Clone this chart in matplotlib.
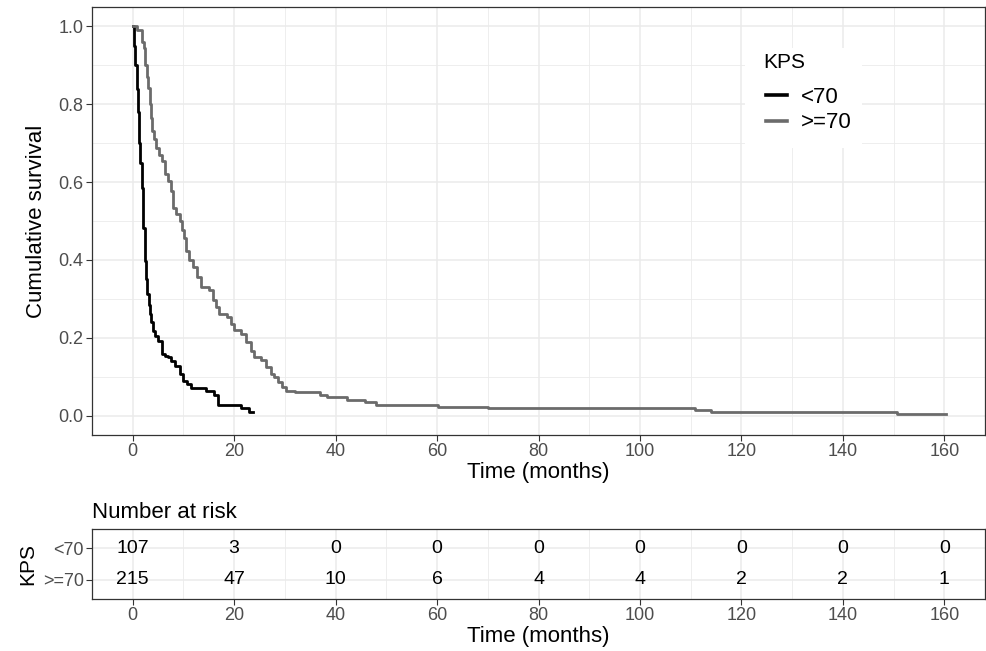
import matplotlib
matplotlib.use("Agg")
import matplotlib.pyplot as plt
from matplotlib.patches import Rectangle
from matplotlib.ticker import MultipleLocator

plt.rcParams['font.family'] = ['Liberation Sans', 'DejaVu Sans']

# Kaplan-Meier step estimates by KPS group (time in months, survival probability)
t_lt70 = [0, 0.3, 0.5, 0.8, 1.0, 1.3, 1.5, 1.76, 2.1, 2.4, 2.65, 2.9, 3.15,
          3.4, 3.7, 4.05, 4.5, 5.0, 5.7, 6.3, 7.0, 7.6, 8.3, 9.3, 9.9, 10.8,
          11.6, 14.5, 16.0, 16.8, 21.3, 22.9, 23.7]
s_lt70 = [1.0, 0.95, 0.90, 0.84, 0.78, 0.70, 0.65, 0.585, 0.483, 0.397, 0.35,
          0.312, 0.285, 0.261, 0.24, 0.218, 0.205, 0.192, 0.158, 0.154, 0.15,
          0.14, 0.128, 0.107, 0.09, 0.08, 0.072, 0.062, 0.052, 0.028, 0.0187,
          0.0093, 0.0093]

t_ge70 = [0, 0.8, 1.76, 2.2, 2.5, 2.8, 3.07, 3.4, 3.65, 3.9, 4.3, 4.7, 5.2,
          5.7, 6.3, 7.0, 7.6, 7.97, 8.6, 9.3, 9.8, 10.2, 10.6, 11.2, 11.9,
          12.7, 13.5, 15.1, 15.8, 16.5, 17.1, 18.7, 19.4, 20.0, 21.3, 22.3,
          23.3, 24.0, 25.3, 26.3, 27.2, 27.8, 28.7, 29.5, 30.2, 32.1, 37.0,
          38.3, 42.2, 45.8, 48.0, 60.2, 70.0, 110.8, 114.0, 150.6, 160.4]
s_ge70 = [1.0, 0.99, 0.96, 0.944, 0.90, 0.87, 0.842, 0.80, 0.765, 0.731, 0.71,
          0.688, 0.67, 0.654, 0.62, 0.603, 0.577, 0.534, 0.517, 0.50, 0.478,
          0.457, 0.423, 0.40, 0.382, 0.355, 0.331, 0.322, 0.296, 0.28, 0.262,
          0.253, 0.235, 0.219, 0.21, 0.19, 0.167, 0.150, 0.142, 0.125, 0.108,
          0.099, 0.085, 0.073, 0.064, 0.06, 0.052, 0.047, 0.039, 0.034, 0.028,
          0.023, 0.019, 0.015, 0.0093, 0.0047, 0.0047]

groups = ["<70", ">=70"]
group_colors = ["#000000", "#6b6b6b"]

risk_times = [0, 20, 40, 60, 80, 100, 120, 140, 160]
risk_lt70 = [107, 3, 0, 0, 0, 0, 0, 0, 0]
risk_ge70 = [215, 47, 10, 6, 4, 4, 2, 2, 1]

x_ticks = [0, 20, 40, 60, 80, 100, 120, 140, 160]
y_ticks = [0.0, 0.2, 0.4, 0.6, 0.8, 1.0]

W, H = 987, 651
fig = plt.figure(figsize=(W / 100, H / 100), dpi=100)

tick_col = "#4d4d4d"
grid_col = "#ebebeb"
border_col = "#333333"


def style_axes(ax):
    for sp in ax.spines.values():
        sp.set_color(border_col)
        sp.set_linewidth(0.9)
    ax.tick_params(axis='both', colors=border_col, labelcolor=tick_col,
                   labelsize=13, length=4, width=0.8, pad=2)
    ax.xaxis.set_minor_locator(MultipleLocator(10))
    ax.tick_params(axis='x', which='minor', length=0)
    ax.grid(True, which='major', color=grid_col, linewidth=1.1, zorder=0)
    ax.grid(True, which='minor', axis='x', color=grid_col, linewidth=0.6, zorder=0)
    ax.set_axisbelow(True)
    ax.set_xlim(-8, 168)
    ax.set_xticks(x_ticks)


# --- survival curves ---
ax = fig.add_axes([92 / W, 1 - 435 / H, (985 - 92) / W, (435 - 7) / H])
style_axes(ax)
ax.yaxis.set_minor_locator(MultipleLocator(0.1))
ax.tick_params(axis='y', which='minor', length=0)
ax.grid(True, which='minor', axis='y', color=grid_col, linewidth=0.6, zorder=0)
ax.set_ylim(-0.05, 1.05)
ax.set_yticks(y_ticks)
ax.set_yticklabels([f"{v:.1f}" for v in y_ticks])

ax.step(t_lt70, s_lt70, where='post', color=group_colors[0], lw=2.0,
        label=groups[0], zorder=3)
ax.step(t_ge70, s_ge70, where='post', color=group_colors[1], lw=2.0,
        label=groups[1], zorder=3)

ax.set_xlabel("Time (months)", fontsize=16, labelpad=1)
ax.set_ylabel("Cumulative survival", fontsize=16, labelpad=8)

# legend: white background block, title and keys
ax.add_patch(Rectangle((745 / W, 1 - 148 / H), 117 / W, 100 / H,
                       transform=fig.transFigure, facecolor='white',
                       edgecolor='none', zorder=1))
fig.text(763 / W, 1 - 62 / H, "KPS", fontsize=15, ha='left', va='center')
leg = ax.legend(loc='upper left',
                bbox_to_anchor=(766 / W, 1 - 87 / H), bbox_transform=fig.transFigure,
                fontsize=16, frameon=False, handlelength=0.95,
                handletextpad=0.6, labelspacing=0.2, borderpad=0,
                borderaxespad=0)
for ln in leg.get_lines():
    ln.set_linewidth(2.6)

# --- number-at-risk table ---
rax = fig.add_axes([92 / W, 1 - 599 / H, (985 - 92) / W, (599 - 529) / H])
style_axes(rax)
rax.set_ylim(0.4, 2.6)
rax.set_yticks([2, 1])
rax.set_yticklabels(groups)
for t, n in zip(risk_times, risk_lt70):
    rax.text(t, 2, str(n), ha='center', va='center', fontsize=14, color='black')
for t, n in zip(risk_times, risk_ge70):
    rax.text(t, 1, str(n), ha='center', va='center', fontsize=14, color='black')
rax.set_xlabel("Time (months)", fontsize=16, labelpad=1)
rax.set_ylabel("KPS", fontsize=15, labelpad=4)
rax.set_title("Number at risk", loc='left', fontsize=16, pad=8)

fig.savefig("out.png", dpi=100)
